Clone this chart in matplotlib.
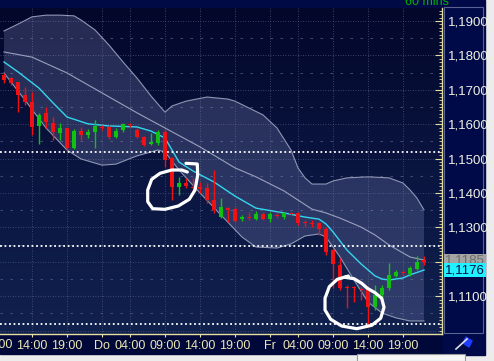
import numpy as np
import matplotlib
matplotlib.use("Agg")
from matplotlib import pyplot as plt
from matplotlib.colors import LinearSegmentedColormap
from matplotlib.patches import Rectangle, Polygon
from matplotlib.lines import Line2D
from matplotlib.ticker import MultipleLocator

plt.rcParams['font.family'] = ['Liberation Sans', 'DejaVu Sans']

# hourly candles, Mi 10:00 ... Fr 22:00 (index 0 = Mi 10:00)
opens = [1.1743, 1.1734, 1.1723, 1.1685, 1.1665, 1.1595, 1.1633, 1.1603, 1.1574, 1.1589,
         1.1531, 1.1580, 1.1569, 1.1577, 1.1592, 1.1592, 1.1563, 1.1583, 1.1601, 1.1583,
         1.1563, 1.1542, 1.1545, 1.1577, 1.1502, 1.1417, 1.1429, 1.1417, 1.1417, 1.1415,
         1.1380, 1.1330, 1.1356, 1.1353, 1.1324, 1.1330, 1.1324, 1.1339, 1.1324, 1.1336,
         1.1330, 1.1342, 1.1342, 1.1316, 1.1313, 1.1313, 1.1295, 1.1234, 1.1191, 1.1127,
         1.1127, 1.1121, 1.1124, 1.1069, 1.1103, 1.1124, 1.1159, 1.1170, 1.1165, 1.1179,
         1.1205]
highs = [1.1749, 1.1737, 1.1723, 1.1708, 1.1694, 1.1633, 1.1650, 1.1621, 1.1603, 1.1589,
         1.1586, 1.1592, 1.1586, 1.1612, 1.1598, 1.1598, 1.1589, 1.1603, 1.1603, 1.1589,
         1.1566, 1.1574, 1.1583, 1.1586, 1.1505, 1.1447, 1.1444, 1.1444, 1.1432, 1.1429,
         1.1467, 1.1385, 1.1359, 1.1359, 1.1336, 1.1345, 1.1348, 1.1345, 1.1345, 1.1345,
         1.1345, 1.1345, 1.1345, 1.1322, 1.1322, 1.1316, 1.1301, 1.1240, 1.1211, 1.1133,
         1.1130, 1.1127, 1.1127, 1.1133, 1.1133, 1.1197, 1.1176, 1.1176, 1.1188, 1.1217,
         1.1217]
lows = [1.1720, 1.1714, 1.1635, 1.1656, 1.1569, 1.1542, 1.1589, 1.1554, 1.1554, 1.1525,
        1.1528, 1.1554, 1.1560, 1.1531, 1.1583, 1.1557, 1.1560, 1.1577, 1.1592, 1.1560,
        1.1537, 1.1540, 1.1540, 1.1476, 1.1380, 1.1394, 1.1415, 1.1400, 1.1400, 1.1371,
        1.1342, 1.1327, 1.1316, 1.1316, 1.1319, 1.1322, 1.1322, 1.1322, 1.1316, 1.1327,
        1.1324, 1.1336, 1.1307, 1.1301, 1.1301, 1.1278, 1.1220, 1.1124, 1.1118, 1.1066,
        1.1083, 1.1089, 1.1010, 1.1060, 1.1098, 1.1118, 1.1156, 1.1159, 1.1159, 1.1176,
        1.1191]
closes = [1.1728, 1.1720, 1.1685, 1.1665, 1.1592, 1.1627, 1.1606, 1.1577, 1.1589, 1.1531,
          1.1580, 1.1569, 1.1577, 1.1595, 1.1589, 1.1563, 1.1580, 1.1601, 1.1598, 1.1563,
          1.1540, 1.1548, 1.1577, 1.1496, 1.1417, 1.1429, 1.1420, 1.1415, 1.1412, 1.1380,
          1.1351, 1.1359, 1.1351, 1.1319, 1.1330, 1.1327, 1.1339, 1.1324, 1.1339, 1.1333,
          1.1342, 1.1339, 1.1313, 1.1313, 1.1310, 1.1295, 1.1229, 1.1194, 1.1124, 1.1124,
          1.1124, 1.1118, 1.1069, 1.1103, 1.1124, 1.1162, 1.1170, 1.1167, 1.1182, 1.1199,
          1.1199]

# bollinger bands + ema at these candle indices
upper_idx = [0, 2, 4, 6, 8, 10, 11, 13, 15, 17, 19, 21, 23, 24, 26, 29, 32, 33, 35, 37,
             39, 41, 42, 43, 44, 46, 47, 49, 52, 55, 57, 58, 59, 60]
upper_val = [1.1871, 1.1891, 1.1912, 1.1917, 1.1917, 1.1915, 1.1903, 1.1874, 1.1830, 1.1781,
             1.1734, 1.1682, 1.1635, 1.1653, 1.1667, 1.1679, 1.1673, 1.1667, 1.1647, 1.1627,
             1.1589, 1.1525, 1.1473, 1.1444, 1.1426, 1.1426, 1.1435, 1.1444, 1.1447, 1.1444,
             1.1429, 1.1409, 1.1385, 1.1351]
middle_idx = [0, 4, 9, 14, 19, 23, 28, 33, 36, 40, 44, 46, 48, 51, 53, 55, 58, 60]
middle_val = [1.1810, 1.1795, 1.1749, 1.1691, 1.1633, 1.1589, 1.1534, 1.1473, 1.1447, 1.1406,
              1.1353, 1.1342, 1.1327, 1.1301, 1.1278, 1.1249, 1.1214, 1.1205]
lower_idx = [0, 3, 6, 9, 11, 14, 16, 19, 22, 23, 25, 28, 31, 34, 36, 39, 41, 43, 45, 46,
             48, 50, 52, 54, 56, 58, 60]
lower_val = [1.1749, 1.1670, 1.1589, 1.1525, 1.1499, 1.1481, 1.1484, 1.1508, 1.1525, 1.1519,
             1.1467, 1.1400, 1.1336, 1.1272, 1.1243, 1.1240, 1.1252, 1.1275, 1.1281, 1.1272,
             1.1214, 1.1147, 1.1083, 1.1051, 1.1037, 1.1028, 1.1028]
ema_idx = [0, 2, 5, 7, 9, 12, 15, 19, 21, 23, 24, 25, 27, 30, 33, 36, 40, 43, 45, 46,
           47, 49, 51, 53, 54, 55, 57, 58, 60]
ema_val = [1.1781, 1.1752, 1.1705, 1.1662, 1.1621, 1.1601, 1.1595, 1.1592, 1.1580, 1.1560,
           1.1525, 1.1490, 1.1464, 1.1432, 1.1391, 1.1356, 1.1342, 1.1330, 1.1324, 1.1310,
           1.1287, 1.1234, 1.1194, 1.1159, 1.1150, 1.1147, 1.1153, 1.1162, 1.1176]

levels = [1.1519, 1.1246, 1.1019]   # user drawn horizontal lines

# hand drawn circles (candle index, price)
circle1_x = [26.0, 27.61, 27.67, 27.29, 26.47, 24.9, 23.0, 21.24, 20.53, 20.53, 21.1, 22.29,
             23.96, 25.39, 26.19]
circle1_y = [1.14863, 1.14843, 1.14523, 1.14087, 1.13817, 1.13622, 1.13526, 1.13544, 1.13747,
             1.14087, 1.14398, 1.14573, 1.14669, 1.14669, 1.14610]
circle2_x = [49.19, 47.61, 46.47, 45.86, 45.86, 46.67, 48.24, 50.39, 52.53, 53.81, 54.29,
             53.96, 53.0, 51.9, 51.1, 50.0, 48.71]
circle2_y = [1.11587, 1.11491, 1.11276, 1.10939, 1.10599, 1.10328, 1.10134, 1.10055, 1.10154,
             1.10358, 1.10677, 1.10939, 1.11102, 1.11230, 1.11375, 1.11509, 1.11549]

tick_pos = [4, 9, 14, 18, 23, 28, 33, 38, 42, 47, 52, 57]
tick_lab = ["14:00", "19:00", "Do", "04:00", "09:00", "14:00", "19:00",
            "Fr", "04:00", "09:00", "14:00", "19:00"]
price_ticks = [1.11, 1.12, 1.13, 1.14, 1.15, 1.16, 1.17, 1.18, 1.19]
last_price = 1.1185
ema_last = ema_val[-1]

W, H = 494, 361
def box(x0, y0, x1, y1):
    return (x0 / W, 1 - y1 / H, (x1 - x0) / W, (y1 - y0) / H)

def panel(x0, y0, x1, y1, **kw):
    r = box(x0, y0, x1, y1)
    fig.patches.append(Rectangle(r[:2], r[2], r[3], transform=fig.transFigure, **kw))

fig = plt.figure(figsize=(W / 100, H / 100), dpi=100)
fig.patch.set_facecolor('#ececec')

# window frame pieces (behind the axes)
panel(0, 0, 442, 8, color='#000a44', zorder=-5)
panel(442, 0, 485, 355, color='#000a48', zorder=-5)
panel(0, 334, 442, 354, color='#00083a', zorder=-5)
panel(444, 7, 483, 333, fill=False, edgecolor='#5a6494', lw=0.8, zorder=-4)
panel(357, 354, 465, 361, facecolor='#f6f6f6', edgecolor='#9a9a9a', lw=0.8, zorder=-4)
fig.text(405 / W, 1 - 5 / H, "60 mins", color='#00b400', fontsize=9, va='baseline')
# flag icon
fig.lines.append(Line2D([456 / W, 467 / W], [1 - 349 / H, 1 - 339 / H], transform=fig.transFigure,
                        color='#dddddd', lw=1.2))
fig.patches.append(Polygon([(466 / W, 1 - 337 / H), (472 / W, 1 - 341 / H), (469 / W, 1 - 347 / H),
                            (463 / W, 1 - 343 / H)], closed=True, transform=fig.transFigure,
                           color='#1e3cff'))

ax = fig.add_axes(box(0, 8, 442, 334))
x0, x1 = -4 / 7, 438 / 7
y0, y1 = 1.09901, 1.19378
ax.set_xlim(x0, x1)
ax.set_ylim(y0, y1)

bg = LinearSegmentedColormap.from_list('bg', ['#03072a', '#0a1540', '#11214e'])
ax.imshow(np.linspace(0, 1, 256).reshape(-1, 1), extent=(x0, x1, y0, y1), aspect='auto',
          cmap=bg, origin='upper', zorder=0)

# grid
gcol = '#4c5580'
for p in price_ticks + [1.10]:
    ax.axhline(p, color=gcol, lw=0.6, ls=(0, (1, 2)), zorder=1)
    ax.axhline(p + 0.005, color=gcol, lw=0.6, ls=(0, (3, 9)), zorder=1)
for t in tick_pos:
    ax.axvline(t, color=gcol, lw=0.6, ls=(0, (1, 2)), zorder=1)

# bands
ax.fill(np.concatenate([upper_idx, lower_idx[::-1]]), np.concatenate([upper_val, lower_val[::-1]]),
        color='#8890c4', alpha=0.26, lw=0, zorder=2)
ax.plot(upper_idx, upper_val, color='#8e96b4', lw=0.8, zorder=3)
ax.plot(lower_idx, lower_val, color='#8e96b4', lw=0.8, zorder=3)
ax.plot(middle_idx, middle_val, color='#9aa0bc', lw=0.8, zorder=3)
ax.plot(ema_idx, ema_val, color='#34d6ee', lw=1.0, zorder=3)

for lv in levels:
    ax.axhline(lv, color='white', lw=1.3, ls=(0, (1, 1.5)), zorder=3)

# candles
idx = np.arange(len(opens))
o, h, l, c = map(np.array, (opens, highs, lows, closes))
cols = np.where(c >= o, '#12c012', '#f01212')
ax.vlines(idx, l, h, colors=cols, lw=1.0, zorder=4)
body = np.maximum(np.abs(c - o), 0.0003)
ax.bar(idx, body, bottom=np.minimum(o, c), width=0.7, color=cols, lw=0, zorder=5)

ax.plot(circle1_x, circle1_y, color='white', lw=2.3, solid_capstyle='round',
        solid_joinstyle='round', zorder=6)
ax.plot(circle2_x, circle2_y, color='white', lw=2.3, solid_capstyle='round',
        solid_joinstyle='round', zorder=6)

# axes styling
for s in ('top', 'left'):
    ax.spines[s].set_visible(False)
for s in ('right', 'bottom'):
    ax.spines[s].set_color('#e6dea0')
    ax.spines[s].set_linewidth(1.0)
ax.yaxis.tick_right()
ax.set_yticks(price_ticks)
ax.set_yticklabels([f"{v:.4f}".replace('.', ',') for v in price_ticks])
ax.yaxis.set_minor_locator(MultipleLocator(0.001))
ax.tick_params(axis='y', which='major', direction='in', length=5, width=0.8, color='#e6dea0',
               labelcolor='#f0f0e2', labelsize=9.5, pad=4)
ax.tick_params(axis='y', which='minor', direction='in', length=2.5, width=0.6, color='#e6dea0')
ax.set_xticks(tick_pos)
ax.set_xticklabels(tick_lab)
ax.tick_params(axis='x', direction='out', length=2.5, width=0.8, color='#e6dea0',
               labelcolor='#ece6b4', labelsize=9, pad=1.5)
ax.text(-1, -0.034, "09:00", transform=ax.get_xaxis_transform(), ha='center', va='center',
        color='#ece6b4', fontsize=9, clip_on=False)

# the 1,12 label is covered by the price boxes in the original
ax.get_yticklabels()[1].set_visible(False)
ax.text(1.007, 1.1204, f"{last_price:.4f}".replace('.', ','), transform=ax.get_yaxis_transform(),
        ha='left', va='center', color='#6c6c6c', fontsize=9.5, zorder=7,
        bbox=dict(boxstyle='square,pad=0.05', facecolor='#a4a4a4', edgecolor='none'), clip_on=False)
ax.text(1.007, ema_last, f"{ema_last:.4f}".replace('.', ','), transform=ax.get_yaxis_transform(),
        ha='left', va='center', color='#0a1040', fontsize=9.5, zorder=8,
        bbox=dict(boxstyle='square,pad=0.1', facecolor='#20f0ff', edgecolor='none'), clip_on=False)

fig.savefig("out.png", dpi=100, facecolor=fig.get_facecolor())
